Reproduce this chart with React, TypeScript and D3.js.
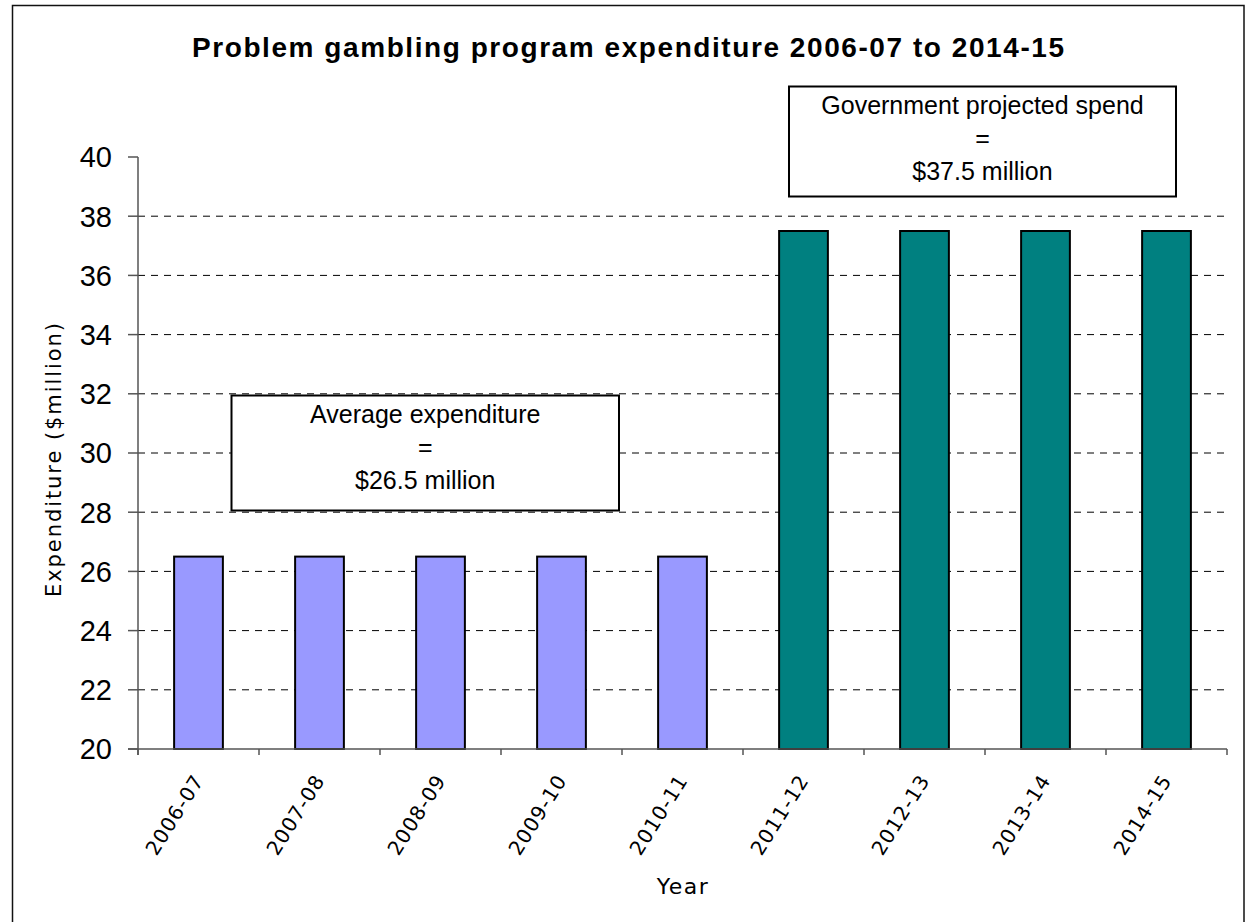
import React from "react";
import * as d3 from "d3";

const categories = ["2006-07", "2007-08", "2008-09", "2009-10", "2010-11", "2011-12", "2012-13", "2013-14", "2014-15"];
const values = [26.5, 26.5, 26.5, 26.5, 26.5, 37.5, 37.5, 37.5, 37.5];
const seriesType = ["actual", "actual", "actual", "actual", "actual", "projected", "projected", "projected", "projected"];
const yTicks = [20, 22, 24, 26, 28, 30, 32, 34, 36, 38, 40];
const gridTicks = [22, 24, 26, 28, 30, 32, 34, 36, 38];
const titleText = "Problem gambling program expenditure 2006-07 to 2014-15";
const yLabel = "Expenditure ($million)";
const xLabel = "Year";
const boxAverage = ["Average expenditure", "=", "$26.5 million"];
const boxProjected = ["Government projected spend", "=", "$37.5 million"];

const colors: Record<string, string> = { actual: "#9999FF", projected: "#008080" };

export default function App() {
  const W = 1249;
  const H = 922;
  const left = 138;
  const right = 1227;
  const top = 157;
  const bottom = 749;

  const x = d3.scaleBand<string>().domain(categories).range([left, right]).padding(0);
  const y = d3.scaleLinear().domain([20, 40]).range([bottom, top]);
  const barW = x.bandwidth() * 0.403;

  const boundaries = categories.map((c) => x(c)!).concat([right]);

  const renderBox = (lines: string[], bx: number, by: number, bw: number, bh: number) => (
    <g>
      <rect x={bx} y={by} width={bw} height={bh} fill="#fff" stroke="#000" strokeWidth={2} />
      {lines.map((l, i) => (
        <text
          key={i}
          x={bx + bw / 2}
          y={by + 27.5 + i * 33}
          textAnchor="middle"
          fontFamily="'Liberation Sans', Arial, sans-serif"
          fontSize={25}
          fill="#000"
        >
          {l}
        </text>
      ))}
    </g>
  );

  return (
    <svg
      width={W}
      height={H}
      style={{ position: "absolute", left: 0, top: 0, background: "#fff" }}
    >
      <rect x={0} y={0} width={W} height={H} fill="#fff" />
      <rect x={12.5} y={5.5} width={1231.5} height={930} fill="none" stroke="#111" strokeWidth={1.5} />

      <text
        x={628}
        y={57}
        textAnchor="middle"
        fontFamily="'Liberation Sans', Arial, sans-serif"
        fontWeight="bold"
        fontSize={28}
        textLength={872}
        lengthAdjust="spacing"
        fill="#000"
      >
        {titleText}
      </text>

      {/* gridlines */}
      {gridTicks.map((t) => (
        <line
          key={t}
          x1={left}
          x2={right}
          y1={y(t)}
          y2={y(t)}
          stroke="#000"
          strokeWidth={1}
          strokeDasharray="7,6"
        />
      ))}

      {/* bars */}
      {categories.map((c, i) => (
        <rect
          key={c}
          x={x(c)! + x.bandwidth() / 2 - barW / 2}
          y={y(values[i])}
          width={barW}
          height={y(20) - y(values[i])}
          fill={colors[seriesType[i]]}
          stroke="#000"
          strokeWidth={2}
        />
      ))}

      {/* axes */}
      <line x1={left} x2={left} y1={top} y2={bottom + 6} stroke="#555" strokeWidth={1.5} />
      <line x1={left - 10} x2={right} y1={bottom} y2={bottom} stroke="#555" strokeWidth={1.5} />
      {yTicks.map((t) => (
        <g key={t}>
          <line x1={left - 10} x2={left} y1={y(t)} y2={y(t)} stroke="#555" strokeWidth={1.5} />
          <text
            x={112}
            y={y(t)}
            dy="0.36em"
            textAnchor="end"
            fontFamily="'Liberation Sans', Arial, sans-serif"
            fontSize={29}
            fill="#000"
          >
            {t}
          </text>
        </g>
      ))}
      {boundaries.map((bx, i) => (
        <line key={i} x1={bx} x2={bx} y1={bottom} y2={bottom + 6} stroke="#555" strokeWidth={1.5} />
      ))}
      {categories.map((c) => {
        const cx = x(c)! + x.bandwidth() / 2 + 6;
        const cy = 780;
        return (
          <text
            key={c}
            x={cx}
            y={cy}
            transform={`rotate(-58, ${cx}, ${cy})`}
            textAnchor="end"
            fontFamily="'DejaVu Sans', Verdana, sans-serif"
            fontSize={20}
            letterSpacing={1}
            fill="#000"
          >
            {c}
          </text>
        );
      })}

      <text
        x={683}
        y={894}
        textAnchor="middle"
        fontFamily="'DejaVu Sans', Verdana, sans-serif"
        fontSize={22}
        letterSpacing={1.5}
        fill="#000"
      >
        {xLabel}
      </text>
      <text
        x={60.5}
        y={460}
        transform="rotate(-90, 60.5, 460)"
        textAnchor="middle"
        fontFamily="'DejaVu Sans', Verdana, sans-serif"
        fontSize={21}
        textLength={274}
        lengthAdjust="spacing"
        fill="#000"
      >
        {yLabel}
      </text>

      {renderBox(boxAverage, 231.5, 395.5, 387.5, 115)}
      {renderBox(boxProjected, 789, 86.5, 387, 110)}
    </svg>
  );
}
